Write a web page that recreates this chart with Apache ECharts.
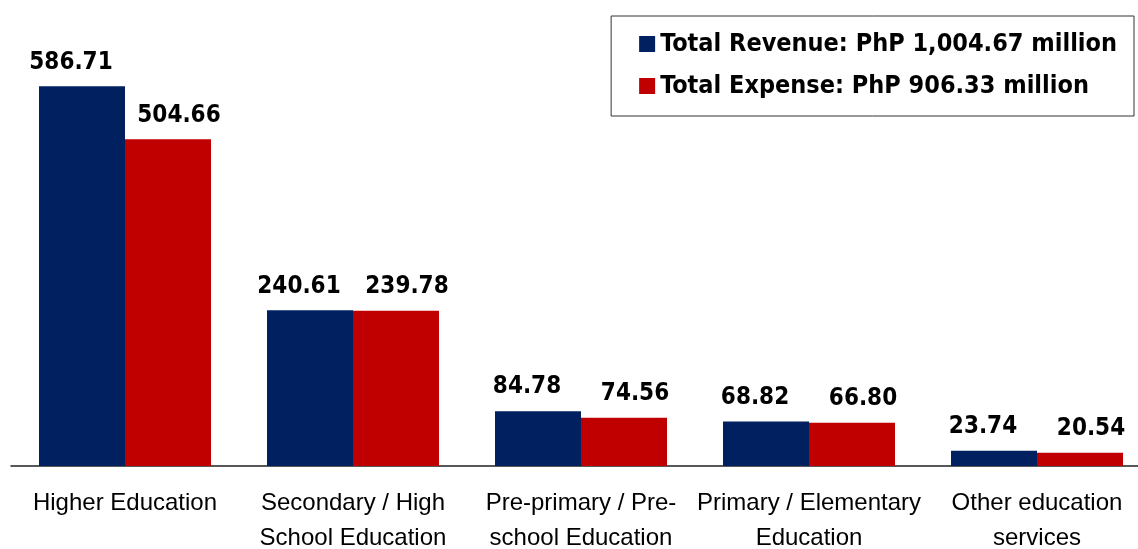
<!DOCTYPE html>
<html>
<head>
<meta charset="utf-8">
<script src="https://cdn.jsdelivr.net/npm/echarts@6/dist/echarts.min.js"></script>
<style>
  html, body { margin: 0; padding: 0; background: #fff; }
  #chart { width: 1138px; height: 549px; }
</style>
</head>
<body>
<div id="chart"></div>
<script>
const categories = [
  'Higher Education',
  'Secondary / High\nSchool Education',
  'Pre-primary / Pre-\nschool Education',
  'Primary / Elementary\nEducation',
  'Other education\nservices'
]
const revenue = [586.71, 240.61, 84.78, 68.82, 23.74]
const expense = [504.66, 239.78, 74.56, 66.80, 20.54]
const legendNames = ['Total Revenue: PhP 1,004.67 million', 'Total Expense: PhP 906.33 million']

const valueFont = 'DejaVu Sans Condensed'
const axisFont = 'Liberation Sans'

const chart = echarts.init(document.getElementById('chart'))

// value labels above the bars, nudged outward like in the source
function barLabel (dx) {
  return {
    show: true,
    position: 'top',
    distance: 12,
    offset: [dx, 0],
    color: '#000',
    fontFamily: valueFont,
    fontWeight: 'bold',
    fontSize: 24,
    formatter: p => p.value.toFixed(2)
  }
}

chart.setOption({
  animation: false,
  grid: { left: 11, width: 1140, top: 0, bottom: 83, outerBoundsMode: 'none', containLabel: false },
  legend: {
    orient: 'vertical',
    right: 4,
    top: 16,
    icon: 'rect',
    itemWidth: 16,
    itemHeight: 16,
    itemGap: 12,
    itemTextGap: 7,
    padding: [13, 17, 15, 28],
    borderColor: '#333',
    borderWidth: 1,
    textStyle: { fontFamily: valueFont, fontWeight: 'bold', fontSize: 25, lineHeight: 30, color: '#000' },
    data: legendNames
  },
  xAxis: {
    type: 'category',
    data: categories,
    axisLine: { lineStyle: { color: '#222', width: 1.5 } },
    axisTick: { show: false },
    axisLabel: {
      color: '#000',
      fontFamily: axisFont,
      fontSize: 24,
      lineHeight: 35,
      margin: 20,
      interval: 0
    }
  },
  yAxis: {
    type: 'value',
    min: 0,
    max: 720,
    show: false,
    splitLine: { show: false }
  },
  series: [
    {
      name: legendNames[0],
      type: 'bar',
      data: revenue,
      barWidth: 86,
      barGap: '0%',
      itemStyle: { color: '#002060' },
      label: barLabel(-11)
    },
    {
      name: legendNames[1],
      type: 'bar',
      data: expense,
      barWidth: 86,
      itemStyle: { color: '#C00000' },
      label: barLabel(11)
    }
  ]
})
</script>
</body>
</html>
